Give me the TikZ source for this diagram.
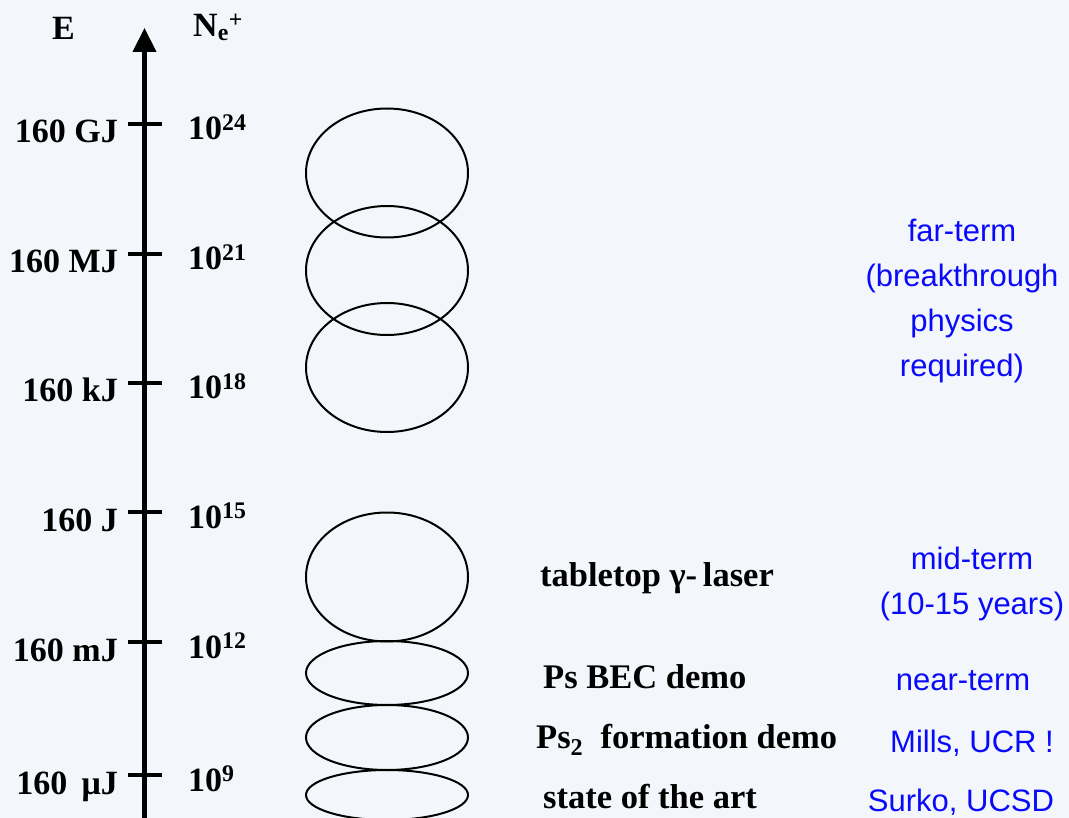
\documentclass[tikz,border=0pt]{standalone}
\usepackage{fontspec}
\setmainfont{Liberation Serif}
\newfontfamily\termsans{Liberation Sans}
\usetikzlibrary{positioning}
\usetikzlibrary{shapes}
\usetikzlibrary{arrows.meta}
\tikzset{>=latex}
\definecolor{mybg}{RGB}{243,247,251}
\definecolor{myblue}{RGB}{10,10,250}
\tikzstyle{scalelabel}=[font=\fontsize{34}{40}\selectfont\bfseries, inner sep=0]
\tikzstyle{stagelabel}=[scalelabel, font=\fontsize{34.5}{40}\selectfont\bfseries, anchor=base west]
\tikzstyle{termlabel}=[font=\fontsize{31}{45}\selectfont\termsans, text=myblue, align=center, inner sep=0]
\tikzstyle{bunch}=[ellipse, draw, line width=2pt, minimum width=162pt, minimum height=129pt, inner sep=0]
\tikzstyle{axis arrow}=[-{Triangle[length=24pt,width=23pt]}, line width=4.3pt]

\begin{document}
\begin{tikzpicture}[x=1pt, y=-1pt]

\fill[mybg] (0,0) rectangle (1069,818);
\useasboundingbox (0,0) rectangle (1069,818);

% energy / positron number axis
\coordinate (axisbot) at (144.5,818);
\coordinate (axistop) at (144.5,28);
\draw[axis arrow] (axisbot) -- (axistop);

\node[scalelabel, anchor=base] (elabel) at (63.5,40) {E};
\node[scalelabel, anchor=base west] (nlabel) at (193,37) {N\textsubscript{e}\textsuperscript{+}};

\foreach \ty/\en/\nn [count=\i] in {124/160 GJ/24, 254/160 MJ/21, 383/160 kJ/18, 512/160 J/15, 642/160 mJ/12, 775/160\ \,μJ/9}{
    \coordinate (tickl\i) at (128,\ty);
    \coordinate (tickr\i) at (162,\ty);
    \draw[line width=4.5pt] (tickl\i) -- (tickr\i);
    \node[scalelabel, anchor=base east] (energy\i) at (118,\ty+19) {\en};
    \node[scalelabel, anchor=base west] (count\i) at (188,\ty+16) {10\textsuperscript{\nn}};
}

% positron bunches
\node[bunch] (bunch1) at (387,173) {};
\node[bunch] (bunch2) at (387,270.5) {};
\node[bunch] (bunch3) at (387,367.5) {};
\node[bunch] (bunch4) at (387,577) {};
\node[bunch, minimum height=64pt] (bunch5) at (387,673) {};
\node[bunch, minimum height=65pt] (bunch6) at (387,737.5) {};
\node[bunch, minimum height=50pt] (bunch7) at (387,795) {};

\node[stagelabel] (laser) at (540,586) {tabletop γ-\,laser};
\node[stagelabel] (becdemo) at (543,688) {Ps BEC demo};
\node[stagelabel] (ps2demo) at (536,748) {Ps\textsubscript{2}\ \ formation demo};
\node[stagelabel] (stateart) at (543,808) {state of the art};

\node[termlabel] (farterm) at (962,301) {far-term\\(breakthrough\\physics\\required)};
\node[termlabel] (midterm) at (972,584) {mid-term\\(10-15 years)};
\node[termlabel, anchor=base] (nearterm) at (963,690) {near-term};
\node[termlabel, anchor=base] (mills) at (972,752) {Mills, UCR !};
\node[termlabel, anchor=base] (surko) at (961,811) {Surko, UCSD};

\end{tikzpicture}
\end{document}
